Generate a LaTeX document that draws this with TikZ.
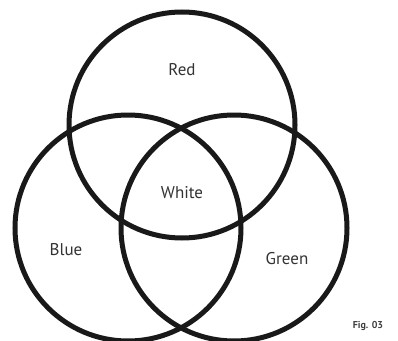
\documentclass[tikz,border=0pt]{standalone}
\usepackage{fontspec}
\setmainfont{PT Sans}
\begin{document}
\begin{tikzpicture}[x=1pt,y=-1pt,
  ring/.style={draw=black!90, line width=5pt, circle, minimum size=226pt, inner sep=0pt},
  lbl/.style={text=black!80, font=\fontsize{17}{20}\selectfont},
  fig/.style={text=black!75, font=\bfseries\fontsize{10}{12}\selectfont}]
\useasboundingbox (0,0) rectangle (398,340);
\fill[white] (0,0) rectangle (398,340);
\node[ring] (red) at (182,125) {};
\node[ring] (blue) at (128,228) {};
\node[ring] (green) at (234,228) {};
\node[lbl] (tred) at (182,70) {Red};
\node[lbl] (twhite) at (182,193) {White};
\node[lbl] (tblue) at (66,250) {Blue};
\node[lbl] (tgreen) at (287,259) {Green};
\node[fig] (tfig) at (368,326) {Fig. 03};
\end{tikzpicture}
\end{document}
